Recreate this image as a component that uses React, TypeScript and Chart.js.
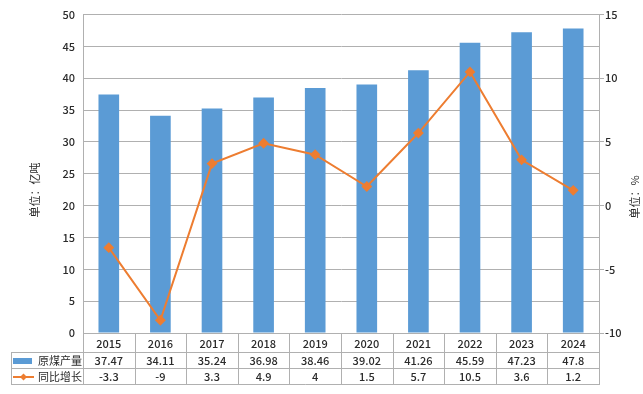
import React, { useEffect, useRef } from "react";
import { Chart, registerables } from "chart.js";

Chart.register(...registerables);

const years = ["2015", "2016", "2017", "2018", "2019", "2020", "2021", "2022", "2023", "2024"];
const coalOutput = [37.47, 34.11, 35.24, 36.98, 38.46, 39.02, 41.26, 45.59, 47.23, 47.8];
const growthRate = [-3.3, -9, 3.3, 4.9, 4, 1.5, 5.7, 10.5, 3.6, 1.2];
const outputLabels = ["37.47", "34.11", "35.24", "36.98", "38.46", "39.02", "41.26", "45.59", "47.23", "47.8"];
const growthLabels = ["-3.3", "-9", "3.3", "4.9", "4", "1.5", "5.7", "10.5", "3.6", "1.2"];
const seriesNames = ["原煤产量", "同比增长"];
const leftTitle = "单位：亿吨";
const rightTitle = "单位：%";

const BLUE = "#5B9BD5";
const ORANGE = "#ED7D31";
const GRID = "#b0b0b0";
const TEXT = "#2b2b2b";
const FONT = "'Noto Sans CJK SC', 'DejaVu Sans', sans-serif";

const tablePlugin = {
  id: "dataTable",
  afterDraw(chart: any) {
    const ctx = chart.ctx;
    const xs = chart.scales.x;
    const area = chart.chartArea;
    const n = years.length;
    const w = (area.right - area.left) / n;
    const top = Math.round(area.bottom);
    const r1 = top + 19;
    const r2 = r1 + 16;
    const r3 = r2 + 16;
    const tableLeft = 11;
    ctx.save();
    ctx.strokeStyle = GRID;
    ctx.lineWidth = 1;
    ctx.beginPath();
    [r1, r2, r3].forEach((y) => {
      ctx.moveTo(tableLeft, y + 0.5);
      ctx.lineTo(Math.round(area.right) + 0.5, y + 0.5);
    });
    ctx.moveTo(tableLeft + 0.5, r1);
    ctx.lineTo(tableLeft + 0.5, r3 + 1);
    for (let i = 0; i <= n; i++) {
      const x = Math.round(area.left + i * w) + 0.5;
      ctx.moveTo(x, top);
      ctx.lineTo(x, r3 + 1);
    }
    ctx.stroke();

    ctx.fillStyle = TEXT;
    ctx.font = `500 11px ${FONT}`;
    ctx.textAlign = "center";
    ctx.textBaseline = "middle";
    const yHead = (top + r1) / 2 + 1;
    const yRow1 = (r1 + r2) / 2 + 1;
    const yRow2 = (r2 + r3) / 2 + 1;
    for (let i = 0; i < n; i++) {
      const cx = xs.getPixelForValue(i);
      ctx.fillText(years[i], cx, yHead);
      ctx.fillText(outputLabels[i], cx, yRow1);
      ctx.fillText(growthLabels[i], cx, yRow2);
    }
    // legend keys
    ctx.fillStyle = BLUE;
    ctx.fillRect(13, yRow1 - 3, 19, 6);
    ctx.strokeStyle = ORANGE;
    ctx.lineWidth = 2;
    ctx.beginPath();
    ctx.moveTo(13, yRow2);
    ctx.lineTo(34, yRow2);
    ctx.stroke();
    ctx.fillStyle = ORANGE;
    ctx.beginPath();
    ctx.moveTo(23.5, yRow2 - 3.5);
    ctx.lineTo(27, yRow2);
    ctx.lineTo(23.5, yRow2 + 3.5);
    ctx.lineTo(20, yRow2);
    ctx.closePath();
    ctx.fill();
    ctx.fillStyle = TEXT;
    ctx.textAlign = "left";
    ctx.font = `11px ${FONT}`;
    ctx.fillText(seriesNames[0], 38, yRow1);
    ctx.fillText(seriesNames[1], 38, yRow2);

    // axis titles
    ctx.font = `11px ${FONT}`;
    ctx.textAlign = "center";
    ctx.fillStyle = TEXT;
    ctx.save();
    ctx.translate(35, 190);
    ctx.rotate(-Math.PI / 2);
    ctx.fillText(leftTitle, 0, 0);
    ctx.restore();
    ctx.save();
    ctx.translate(635, 197);
    ctx.rotate(-Math.PI / 2);
    ctx.fillText(rightTitle, 0, 0);
    ctx.restore();
    ctx.restore();
  },
};

export default function App() {
  const ref = useRef<HTMLCanvasElement | null>(null);
  useEffect(() => {
    if (!ref.current) return;
    const chart = new Chart(ref.current, {
      type: "bar",
      data: {
        labels: years,
        datasets: [
          {
            type: "line",
            label: seriesNames[1],
            data: growthRate,
            yAxisID: "y1",
            borderColor: ORANGE,
            backgroundColor: ORANGE,
            borderWidth: 2,
            pointStyle: "rectRot",
            pointRadius: 4,
            pointBackgroundColor: ORANGE,
            pointBorderColor: ORANGE,
            tension: 0,
            order: 0,
          } as any,
          {
            type: "bar",
            label: seriesNames[0],
            data: coalOutput,
            yAxisID: "y",
            backgroundColor: BLUE,
            barPercentage: 0.4,
            categoryPercentage: 1,
            order: 1,
          },
        ],
      },
      options: {
        responsive: false,
        animation: false,
        layout: { padding: { top: 14, left: 0, right: 0, bottom: 0 } },
        plugins: { legend: { display: false }, tooltip: { enabled: false } },
        scales: {
          x: {
            ticks: { display: false },
            grid: { display: false },
            border: { color: GRID },
            afterFit: (s: any) => {
              s.height = 61;
            },
          },
          y: {
            position: "left",
            min: 0,
            max: 50,
            ticks: { stepSize: 5, padding: 8, color: TEXT, font: { size: 11, family: FONT, weight: "500" } },
            grid: { color: GRID, drawTicks: false },
            border: { color: GRID },
            afterFit: (s: any) => {
              s.width = 83;
            },
          },
          y1: {
            position: "right",
            min: -10,
            max: 15,
            ticks: { stepSize: 5, padding: 1, color: TEXT, font: { size: 11, family: FONT, weight: "500" } },
            grid: { drawOnChartArea: false, tickLength: 5, color: GRID },
            border: { color: GRID },
            afterFit: (s: any) => {
              s.width = 44;
            },
          },
        },
      } as any,
      plugins: [tablePlugin],
    });
    return () => chart.destroy();
  }, []);
  return (
    <div style={{ position: "absolute", left: 0, top: 0, width: 643, height: 394, background: "#fff" }}>
      <canvas ref={ref} width={643} height={394} />
    </div>
  );
}
